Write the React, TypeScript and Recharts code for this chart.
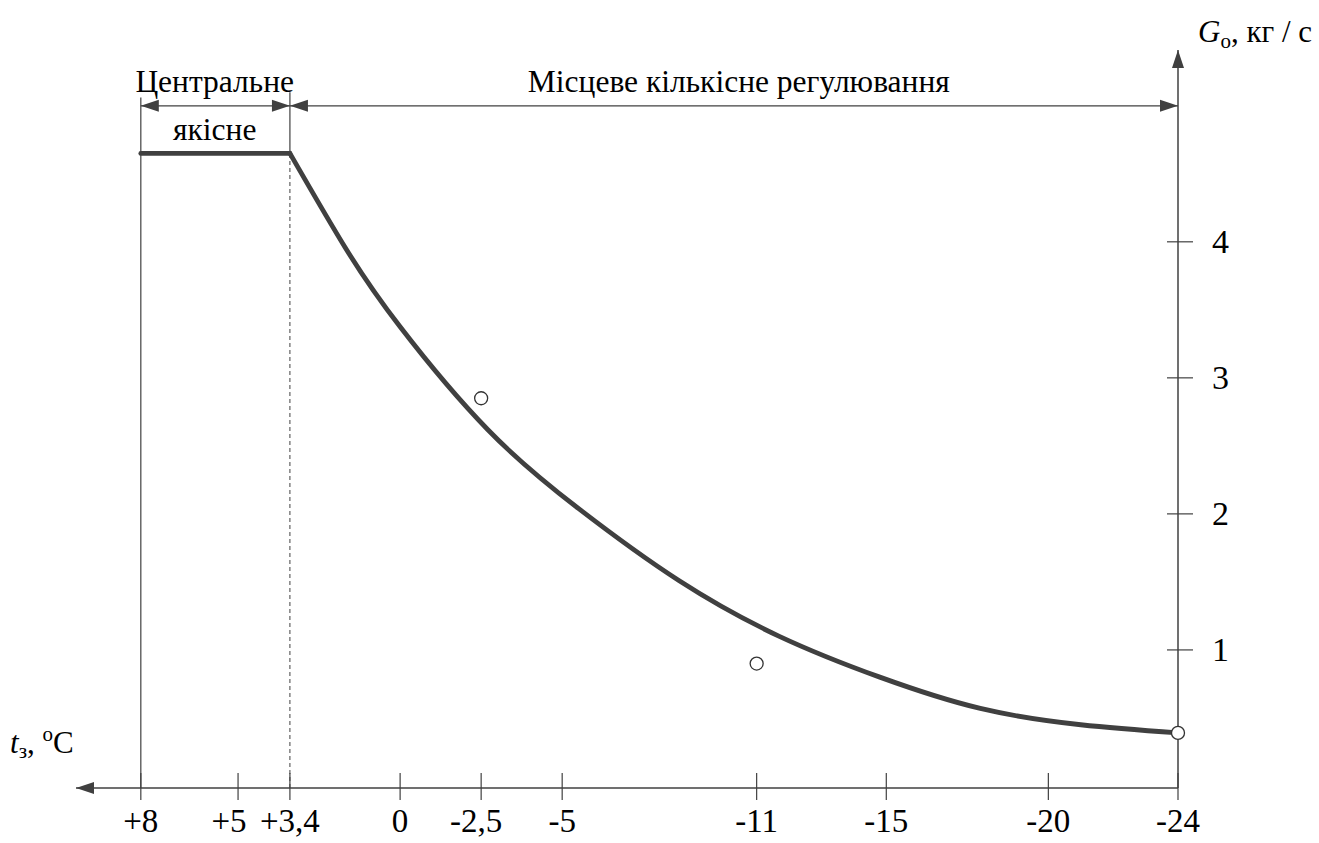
import React from 'react';
import {
  ComposedChart,
  Line,
  Scatter,
  XAxis,
  YAxis,
  ReferenceLine,
  ReferenceDot,
} from 'recharts';

// outdoor temperature ticks (axis runs right-to-left)
const T_TICKS = [8, 5, 3.4, 0, -2.5, -5, -11, -15, -20, -24];
const T_LABELS = ['+8', '+5', '+3,4', '0', '-2,5', '-5', '-11', '-15', '-20', '-24'];
const G_TICKS = [1, 2, 3, 4];

// central quality regulation - constant flow
const FLAT_T = [8, 3.4];
const FLAT_G = [4.65, 4.65];

// local quantity regulation curve
const CURVE_T = [3.4, 1.7, 0, -2.7, -5.5, -8.6, -11.7, -14.8, -17.9, -21, -24];
const CURVE_G = [4.65, 3.96, 3.375, 2.62, 2.04, 1.51, 1.1, 0.8, 0.57, 0.45, 0.39];

// measured points
const POINT_T = [-2.5, -11, -24];
const POINT_G = [2.85, 0.9, 0.39];

const T_MIN = -24;
const T_MAX = 10;
const G_MIN = -0.015;
const G_MAX = 5.41;

const FONT = "'Liberation Serif', 'Times New Roman', Times, serif";
const INK = '#404040';
const TXT = '#000';

const flatData = FLAT_T.map((t, i) => ({ t, g: FLAT_G[i] }));
const curveData = CURVE_T.map((t, i) => ({ t, g: CURVE_G[i] }));
const pointData = POINT_T.map((t, i) => ({ t, g: POINT_G[i] }));

const head = (x: number, y: number, ux: number, uy: number) => {
  const len = 18;
  const half = 6;
  const bx = x - ux * len;
  const by = y - uy * len;
  return `${x},${y} ${bx - uy * half},${by + ux * half} ${bx + uy * half},${by - ux * half}`;
};

const arrowShape =
  (opts: { start?: boolean; end?: boolean; width?: number; dash?: string }) =>
  (p: any) => {
    const { x1, y1, x2, y2 } = p;
    const len = Math.hypot(x2 - x1, y2 - y1) || 1;
    const ux = (x2 - x1) / len;
    const uy = (y2 - y1) / len;
    return (
      <g>
        <line
          x1={x1}
          y1={y1}
          x2={x2}
          y2={y2}
          stroke={INK}
          strokeWidth={opts.width ?? 1.3}
          strokeDasharray={opts.dash}
        />
        {opts.start && <polygon points={head(x1, y1, -ux, -uy)} fill={INK} />}
        {opts.end && <polygon points={head(x2, y2, ux, uy)} fill={INK} />}
      </g>
    );
  };

const textShape = (label: string) => (p: any) => (
  <text x={p.cx} y={p.cy} textAnchor="middle" fontSize={31.5} fontFamily={FONT} fill={TXT}>
    {label}
  </text>
);

const TTick = (p: any) => {
  const { x, y, payload } = p;
  const label = T_LABELS[T_TICKS.indexOf(payload.value)];
  // the "+5" and "-2,5" labels sit a little left of their ticks in the original
  const dx = payload.value === 5 ? -9 : payload.value === -2.5 ? -5 : 0;
  return (
    <g>
      <line x1={x} x2={x} y1={y - 15} y2={y + 12} stroke={INK} strokeWidth={1.2} />
      <text x={x + dx} y={y + 44} textAnchor="middle" fontSize={33} fontFamily={FONT} fill={TXT}>
        {label}
      </text>
    </g>
  );
};

const GTick = (p: any) => {
  const { x, y, payload } = p;
  return (
    <g>
      <line x1={x - 11} x2={x + 15} y1={y} y2={y} stroke={INK} strokeWidth={1.2} />
      <text x={x + 34} y={y + 11} fontSize={34} fontFamily={FONT} fill={TXT}>
        {payload.value}
      </text>
    </g>
  );
};

const GTitle = (p: any) => {
  const vb = p.viewBox;
  return (
    <text x={vb.x + 20} y={vb.y - 8} fontSize={31} fontFamily={FONT} fill={TXT}>
      <tspan fontStyle="italic">G</tspan>
      <tspan fontSize={21} dy={6}>
        о
      </tspan>
      <tspan dy={-6}>, кг / с</tspan>
    </text>
  );
};

const TTitle = (p: any) => {
  const vb = p.viewBox;
  return (
    <text x={vb.x - 66} y={vb.y - 35} fontSize={31} fontFamily={FONT} fill={TXT}>
      <tspan fontStyle="italic">t</tspan>
      <tspan fontSize={21} dy={5}>
        з
      </tspan>
      <tspan dy={-5}>, </tspan>
      <tspan fontSize={21} dy={-12}>
        o
      </tspan>
      <tspan dy={12}>C</tspan>
    </text>
  );
};

export default function App() {
  return (
    <div style={{ position: 'absolute', left: 0, top: 0, width: 1319, height: 843, background: '#fff' }}>
      <ComposedChart width={1319} height={843} margin={{ top: 50, right: 0, bottom: 0, left: 76 }}>
        <XAxis
          dataKey="t"
          type="number"
          domain={[T_MIN, T_MAX]}
          reversed
          ticks={T_TICKS}
          interval={0}
          axisLine={false}
          tickSize={0}
          tickMargin={0}
          tick={TTick}
          height={55}
          label={TTitle}
        />
        <YAxis
          type="number"
          orientation="right"
          domain={[G_MIN, G_MAX]}
          ticks={G_TICKS}
          interval={0}
          axisLine={false}
          tickSize={0}
          tickMargin={0}
          tick={GTick}
          width={141}
          label={GTitle}
        />

        {/* axes with arrows */}
        <ReferenceLine
          segment={[{ x: T_MIN, y: G_MIN }, { x: T_MAX, y: G_MIN }]}
          ifOverflow="visible"
          shape={arrowShape({ end: true, width: 1.5 })}
        />
        <ReferenceLine
          segment={[{ x: T_MIN, y: G_MIN }, { x: T_MIN, y: G_MAX }]}
          ifOverflow="visible"
          shape={arrowShape({ end: true, width: 1.5 })}
        />

        {/* region boundaries */}
        <ReferenceLine
          segment={[{ x: 8, y: G_MIN }, { x: 8, y: 5.06 }]}
          ifOverflow="visible"
          shape={arrowShape({ width: 1.2 })}
        />
        <ReferenceLine
          segment={[{ x: 3.4, y: G_MIN }, { x: 3.4, y: 4.65 }]}
          ifOverflow="visible"
          shape={arrowShape({ width: 1, dash: '4 3' })}
        />
        <ReferenceLine
          segment={[{ x: 3.4, y: 4.65 }, { x: 3.4, y: 5.1 }]}
          ifOverflow="visible"
          shape={arrowShape({ width: 1.2 })}
        />

        {/* span arrows */}
        <ReferenceLine
          segment={[{ x: 8, y: 5.0 }, { x: 3.4, y: 5.0 }]}
          ifOverflow="visible"
          shape={arrowShape({ start: true, end: true, width: 1.2 })}
        />
        <ReferenceLine
          segment={[{ x: 3.4, y: 5.0 }, { x: -24, y: 5.0 }]}
          ifOverflow="visible"
          shape={arrowShape({ start: true, end: true, width: 1.2 })}
        />

        <ReferenceDot x={5.72} y={5.1} r={1} ifOverflow="visible" shape={textShape('Центральне')} />
        <ReferenceDot x={5.72} y={4.75} r={1} ifOverflow="visible" shape={textShape('якісне')} />
        <ReferenceDot
          x={-10.45}
          y={5.1}
          r={1}
          ifOverflow="visible"
          shape={textShape('Місцеве кількісне регулювання')}
        />

        <Line
          data={flatData}
          dataKey="g"
          type="linear"
          stroke={INK}
          strokeWidth={4.8}
          strokeLinecap="round"
          dot={false}
          isAnimationActive={false}
        />
        <Line
          data={curveData}
          dataKey="g"
          type="natural"
          stroke={INK}
          strokeWidth={4.8}
          strokeLinecap="round"
          dot={false}
          isAnimationActive={false}
        />
        <Scatter
          data={pointData}
          dataKey="g"
          isAnimationActive={false}
          shape={(p: any) => (
            <circle cx={p.cx} cy={p.cy} r={6.5} fill="#fff" stroke="#333" strokeWidth={1.3} />
          )}
        />
      </ComposedChart>
    </div>
  );
}
